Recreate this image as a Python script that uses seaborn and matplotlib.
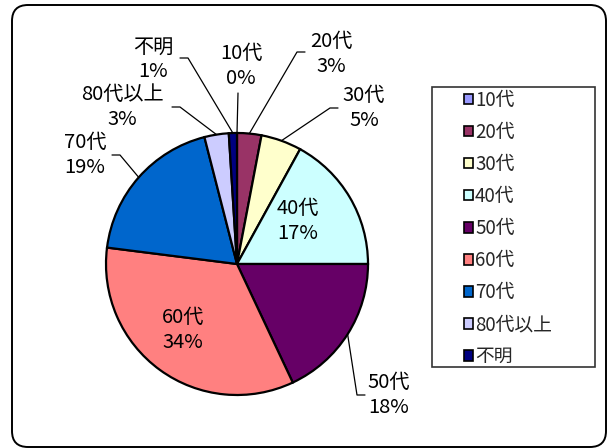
import numpy as np
import matplotlib.pyplot as plt
import seaborn as sns
from matplotlib.patches import Patch, Rectangle, FancyBboxPatch

# data
ages = ["10代", "20代", "30代", "40代", "50代", "60代", "70代", "80代以上", "不明"]
percents = [0, 3, 5, 17, 18, 34, 19, 3, 1]
colors = ["#9999FF", "#993366", "#FFFFCC", "#CCFFFF", "#660066",
          "#FF8080", "#0066CC", "#CCCCFF", "#000080"]

sns.set_theme(style="white")
plt.rcParams["font.family"] = ["Noto Sans CJK JP", "DejaVu Sans"]

W, H = 608, 448
cx, cy, R = 237, 264, 131  # pie centre / radius in pixels (y from top)

# label layout in pixels (x, y from top): text centre, leader elbow, leader end
label_layout = {
    "10代": ((241, 66), (238, 93), (238, 93)),
    "20代": ((331, 54), (297, 52), (305, 52)),
    "30代": ((364, 108), (330, 108), (338, 108)),
    "40代": ((298, 221), None, None),
    "50代": ((389, 395), (357, 395), (365, 395)),
    "60代": ((183, 330), None, None),
    "70代": ((85, 155), (120, 155), (112, 155)),
    "80代以上": ((122, 107), (180, 107), (172, 107)),
    "不明": ((153, 59), (188, 58), (180, 58)),
}


def px(x, y):
    # pixel (from top-left) -> data coords of the pie axes
    return (x - cx) / R, (cy - y) / R


fig = plt.figure(figsize=(W / 100, H / 100), dpi=100)
ax = fig.add_axes([0, 0, 1, 1])
wedges, _ = ax.pie(percents, colors=colors, startangle=90, counterclock=False,
                   wedgeprops=dict(edgecolor="black", linewidth=1.6))
ax.set_xlim(-cx / R, (W - cx) / R)
ax.set_ylim(-(H - cy) / R, cy / R)
ax.set_aspect("equal")
ax.axis("off")

for name, pct, w in zip(ages, percents, wedges):
    (tx, ty), elbow, end = label_layout[name]
    ax.text(*px(tx, ty), f"{name}\n{pct}%", ha="center", va="center",
            fontsize=14.5, linespacing=1.2, color="black")
    if elbow is None:
        continue
    mid = np.deg2rad((w.theta1 + w.theta2) / 2)
    sx, sy = np.cos(mid), np.sin(mid)
    ex, ey = px(*elbow)
    nx, ny = px(*end)
    ax.plot([sx, ex, nx], [sy, ey, ny], color="black", lw=0.9)

# legend box
fig.patches.append(Rectangle((432, H - 367), 163, 280, transform=None,
                             fill=False, edgecolor="#333333", lw=1.2))
handles = [Patch(facecolor=c, edgecolor="black", lw=1.2) for c in colors]
fig.legend(handles, ages, loc="upper left",
           bbox_to_anchor=(460 / W, 1 - 86 / H), frameon=False,
           fontsize=13.5, handlelength=0.48, handleheight=0.48,
           handletextpad=0.12, labelspacing=0.59, borderaxespad=0,
           borderpad=0.2)

# rounded outer frame
fig.patches.append(FancyBboxPatch((12, 1), 594, 442, transform=None,
                                  boxstyle="round,pad=0,rounding_size=16",
                                  fill=False, edgecolor="black", lw=1.4))

fig.savefig("out.png", dpi=100)
